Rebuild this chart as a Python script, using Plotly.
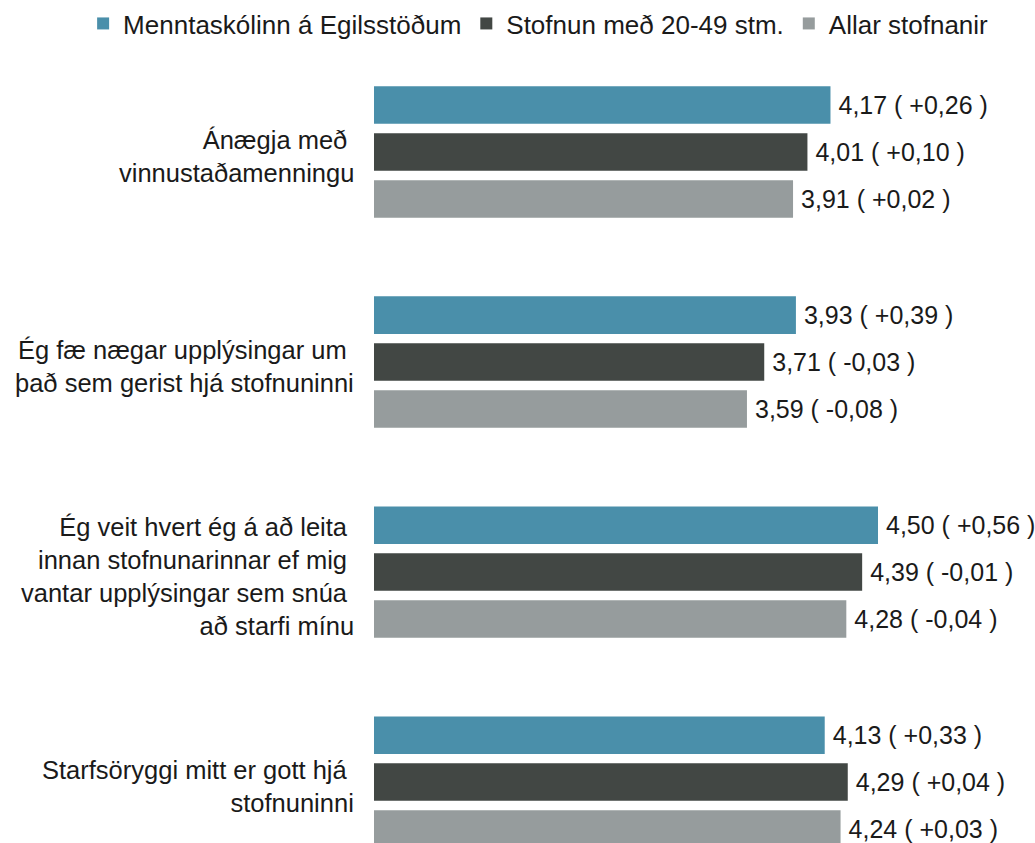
import plotly.graph_objects as go

# category labels (top to bottom); wrapped lines keep their trailing space
categories = [
    "Ánægja með\u00a0<br>vinnustaðamenningu",
    "Ég fæ nægar upplýsingar um\u00a0<br>það sem gerist hjá stofnuninni",
    "Ég veit hvert ég á að leita\u00a0<br>innan stofnunarinnar ef mig\u00a0<br>vantar upplýsingar sem snúa\u00a0<br>að starfi mínu",
    "Starfsöryggi mitt er gott hjá\u00a0<br>stofnuninni",
]

series_names = ["Menntaskólinn á Egilsstöðum", "Stofnun með 20-49 stm.", "Allar stofnanir"]
series_colors = ["#4a8faa", "#424744", "#969c9d"]

skoli_values = [4.17, 3.93, 4.50, 4.13]
skoli_diff = ["+0,26", "+0,39", "+0,56", "+0,33"]

stofnun_values = [4.01, 3.71, 4.39, 4.29]
stofnun_diff = ["+0,10", "-0,03", "-0,01", "+0,04"]

allar_values = [3.91, 3.59, 4.28, 4.24]
allar_diff = ["+0,02", "-0,08", "-0,04", "+0,03"]

all_values = [skoli_values, stofnun_values, allar_values]
all_diffs = [skoli_diff, stofnun_diff, allar_diff]


def fmt(v, d):
    return "\u2009" + f"{v:.2f}".replace(".", ",") + f" ( {d} )"


fig = go.Figure()
for name, color, vals, diffs in zip(series_names, series_colors, all_values, all_diffs):
    # bars start at 1 on the scale, so the length is value-1
    fig.add_trace(go.Bar(
        y=categories, x=[v - 1 for v in vals], base=1, orientation="h", name=name,
        marker=dict(color=color, line=dict(width=0)),
        text=[fmt(v, d) for v, d in zip(vals, diffs)],
        textposition="outside", cliponaxis=False,
        textfont=dict(size=25, color="#1a1a1a"),
    ))

# category labels as annotations so they can sit a bit below the group centre
for cat in categories:
    fig.add_annotation(x=0, xref="paper", xanchor="right", xshift=-18,
                       y=cat, yref="y", yshift=-4, text=cat, align="right",
                       showarrow=False, font=dict(size=25.5, color="#1a1a1a"))

fig.update_layout(
    width=1035, height=843,
    barmode="group", bargap=0.33, bargroupgap=0.2,
    plot_bgcolor="white", paper_bgcolor="white",
    font=dict(family="Liberation Sans, Arial, sans-serif", size=25, color="#1a1a1a"),
    margin=dict(l=374, r=85, t=47, b=0, autoexpand=False),
    # legend sits above and left of the plot area so it may use the full width
    legend=dict(orientation="h", x=-0.505, xanchor="left", xref="paper",
                y=1.059, yanchor="top", yref="paper",
                font=dict(size=26), traceorder="normal"),
    uniformtext=dict(mode=False),
)
fig.update_xaxes(range=[1, 5], visible=False)
fig.update_yaxes(range=[3.29, -0.5], showgrid=False, showline=False, ticks="",
                 showticklabels=False)

fig.write_html("out.html", config={"displayModeBar": False},
               post_script="document.body.style.margin='0';")
